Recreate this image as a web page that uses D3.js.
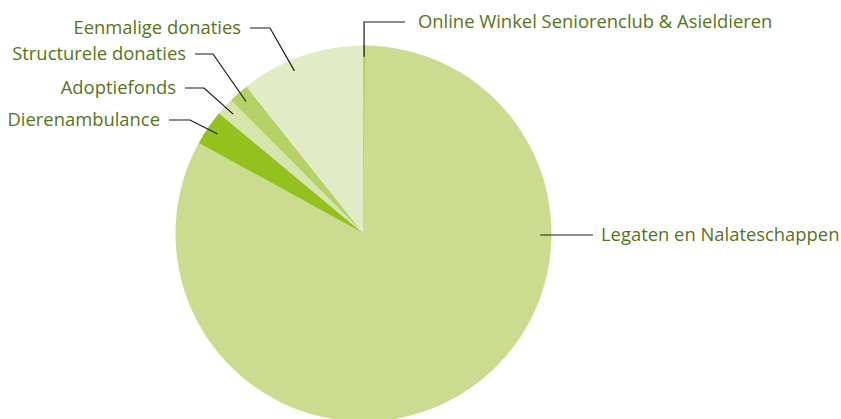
<!DOCTYPE html>
<html>
<head>
<meta charset="utf-8">
<script src="https://cdn.jsdelivr.net/npm/d3@7"></script>
<style>
  body { margin: 0; background: #fff; }
  svg text { font-family: "Open Sans", sans-serif; font-size: 18.4px; fill: #567519; }
</style>
</head>
<body>
<div id="chart"></div>
<script>
// pie of income sources, starting at 12 o'clock, clockwise
let categories = ['Online Winkel Seniorenclub & Asieldieren', 'Legaten en Nalateschappen', 'Dierenambulance', 'Adoptiefonds', 'Structurele donaties', 'Eenmalige donaties']
let values = [0.1, 82.9, 3.05, 1.5, 1.75, 10.7]
let colors = ['#95c11f', '#cbdc91', '#95c11f', '#d5e5ac', '#b4d266', '#e1ecc6']

let width = 841, height = 419
let cx = 363.5, cy = 233.5, radius = 188

// label placement: text anchor point, elbow x and optional angle for the leader end
let labelLayout = {
  'Online Winkel Seniorenclub & Asieldieren': {tx: 418, ty: 22, anchor: 'start', vertical: true, elbowX: 405},
  'Legaten en Nalateschappen': {tx: 601, ty: 235, anchor: 'start', elbowX: 593, angle: Math.PI / 2},
  'Dierenambulance': {tx: 160, ty: 120, anchor: 'end', elbowX: 190},
  'Adoptiefonds': {tx: 176, ty: 88, anchor: 'end', elbowX: 204},
  'Structurele donaties': {tx: 186, ty: 54, anchor: 'end', elbowX: 213},
  'Eenmalige donaties': {tx: 241, ty: 28, anchor: 'end', elbowX: 270, angle: 337 * Math.PI / 180}
}

let svg = d3.select('#chart').append('svg')
    .attr('width', width)
    .attr('height', height)

let pie = d3.pie().sort(null).value(d => d.value)
let arc = d3.arc().innerRadius(0).outerRadius(radius)

let data = categories.map((c, i) => ({name: c, value: values[i], color: colors[i]}))
let arcs = pie(data)

let g = svg.append('g').attr('transform', `translate(${cx},${cy})`)

g.selectAll('path')
    .data(arcs)
    .enter()
    .append('path')
    .attr('d', arc)
    .attr('fill', d => d.data.color)
    .attr('stroke', d => d.data.value < 0.5 ? d.data.color : 'none')
    .attr('stroke-width', 1)

// leader lines and labels
let leaderR = radius * 0.94
arcs.forEach(d => {
    let lay = labelLayout[d.data.name]
    let a = lay.angle !== undefined ? lay.angle : (d.startAngle + d.endAngle) / 2
    let ex = cx + leaderR * Math.sin(a)
    let ey = cy - leaderR * Math.cos(a)
    let pts
    if (lay.vertical) {
        pts = [[ex, ey], [ex, lay.ty], [lay.elbowX, lay.ty]]
    } else if (lay.anchor === 'start') {
        pts = [[ex, lay.ty], [lay.elbowX, lay.ty]]
    } else {
        let sx = lay.tx + 9
        pts = [[ex, ey], [lay.elbowX, lay.ty], [sx, lay.ty]]
    }
    svg.append('path')
        .attr('d', d3.line()(pts))
        .attr('fill', 'none')
        .attr('stroke', '#1a1a1a')
        .attr('stroke-width', 1.2)

    svg.append('text')
        .attr('x', lay.tx)
        .attr('y', lay.ty)
        .attr('dy', '0.35em')
        .attr('text-anchor', lay.anchor)
        .text(d.data.name)
})
</script>
</body>
</html>
